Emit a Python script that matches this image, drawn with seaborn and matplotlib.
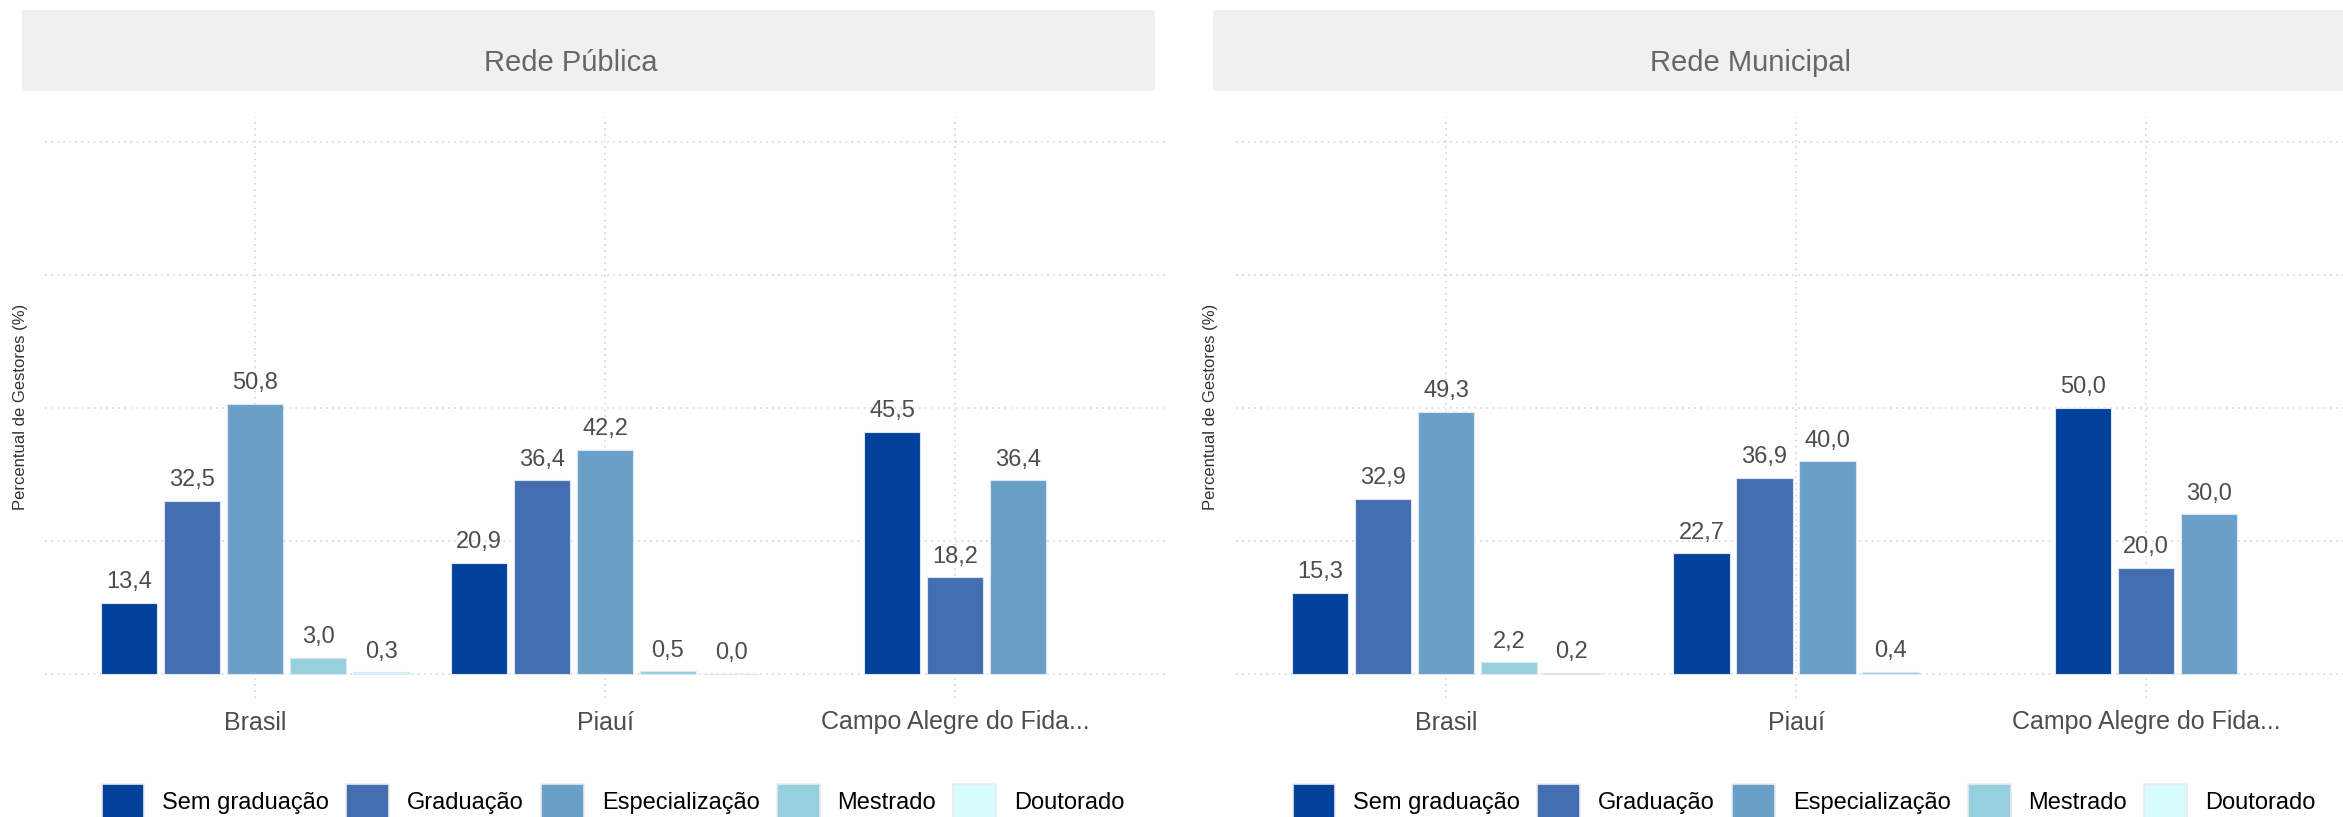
import matplotlib
matplotlib.use("Agg")
import matplotlib.pyplot as plt
import seaborn as sns
import pandas as pd
from matplotlib.patches import Patch, Rectangle
from matplotlib import font_manager

# ---------------- data ----------------
categorias = ["Brasil", "Piauí", "Campo Alegre do Fida..."]
niveis = ["Sem graduação", "Graduação", "Especialização", "Mestrado", "Doutorado"]
cores = ["#01419B", "#436FB1", "#6AA0C7", "#96D0DF", "#D6FCFC"]

publica_brasil = [13.4, 32.5, 50.8, 3.0, 0.3]
publica_piaui = [20.9, 36.4, 42.2, 0.5, 0.0]
publica_campo = [45.5, 18.2, 36.4]

municipal_brasil = [15.3, 32.9, 49.3, 2.2, 0.2]
municipal_piaui = [22.7, 36.9, 40.0, 0.4]
municipal_campo = [50.0, 20.0, 30.0]

titulos = ["Rede Pública", "Rede Municipal"]
y_label = "Percentual de Gestores (%)"
y_grid = [0, 25, 50, 75, 100]

paineis = {
    "Rede Pública": [publica_brasil, publica_piaui, publica_campo],
    "Rede Municipal": [municipal_brasil, municipal_piaui, municipal_campo],
}

rows = []
for painel, series in paineis.items():
    for cat, vals in zip(categorias, series):
        for nivel, v in zip(niveis, vals):
            rows.append({"painel": painel, "local": cat, "nivel": nivel, "valor": v})
df = pd.DataFrame(rows)
paleta = dict(zip(niveis, cores))

# ---------------- style ----------------
sns.set_style("white")
names = {f.name for f in font_manager.fontManager.ttflist}
base_font = ["Liberation Sans", "DejaVu Sans"]
title_font = (["Liberation Sans Narrow", "DejaVu Sans"]
              if "Liberation Sans Narrow" in names else ["Liberation Sans", "DejaVu Sans"])
title_size = 25 if "Liberation Sans Narrow" in names else 21
plt.rcParams["font.family"] = base_font

W, H = 2343, 817
fig = plt.figure(figsize=(W / 100, H / 100), dpi=100)

ax_top, ax_bot = 117, 698
axes_px = [(45, 1165, (-0.6, 2.6)), (1236, 2343, (-0.6, 2.563))]
strips = [(22, 1155), (1213, 2343)]
title_x = [571, 1751]
ylabel_x = [21, 1210]
legend_x = [613, 1804]

def fmt(v):
    return f"{v:.1f}".replace(".", ",")

for i, titulo in enumerate(titulos):
    x0, x1, xl = axes_px[i]
    ax = fig.add_axes([x0 / W, (H - ax_bot) / H, (x1 - x0) / W, (ax_bot - ax_top) / H])
    sub_p = df[df["painel"] == titulo]
    for cat in categorias:
        sub = sub_p[sub_p["local"] == cat]
        present = list(sub["nivel"])
        n_before = len(ax.containers)
        sns.barplot(data=sub, x="local", y="valor", hue="nivel", order=categorias,
                    hue_order=present, palette={k: paleta[k] for k in present},
                    width=0.18 * len(present), gap=0.1, dodge=True, errorbar=None,
                    legend=False, ax=ax, edgecolor="#dbe6f2", linewidth=0.8,
                    saturation=1)
        for cont in ax.containers[n_before:]:
            ax.bar_label(cont, fmt=fmt, padding=7, fontsize=17, color="#4D4D4D")

    ax.set_xlim(*xl)
    ax.set_ylim(-4.5, 104.7)
    ax.set_yticks(y_grid)
    ax.set_yticklabels([])
    ax.set_xlabel("")
    ax.set_ylabel("")
    ax.tick_params(axis="both", length=0)
    ax.tick_params(axis="x", labelsize=18, labelcolor="#4D4D4D", pad=9)
    ax.grid(True, linestyle=(0, (1, 3)), color="#CFCFCF", linewidth=1.1)
    ax.set_axisbelow(True)
    for s in ax.spines.values():
        s.set_visible(False)

    # header strip
    sx0, sx1 = strips[i]
    fig.add_artist(Rectangle((sx0 / W, (H - 91) / H), (sx1 - sx0) / W, 81 / H,
                             transform=fig.transFigure, facecolor="#F0F0F0",
                             edgecolor="none", zorder=0))
    fig.text(title_x[i] / W, (H - 71) / H, titulo, ha="center", va="baseline",
             fontsize=title_size, color="#666666", family=title_font)

    fig.text(ylabel_x[i] / W, (H - 407) / H, y_label, rotation=90, ha="center",
             va="center", fontsize=12, color="#333333")

    handles = [Patch(facecolor=paleta[k], edgecolor="#EBEBEB", linewidth=1.2) for k in niveis]
    fig.legend(handles, niveis, loc="center", bbox_to_anchor=(legend_x[i] / W, (H - 801) / H),
               ncol=5, frameon=False, handlelength=1.82, handleheight=1.82,
               handletextpad=0.76, columnspacing=0.72, fontsize=17, labelcolor="black",
               borderpad=0, borderaxespad=0)

fig.savefig("out.png", dpi=100)
